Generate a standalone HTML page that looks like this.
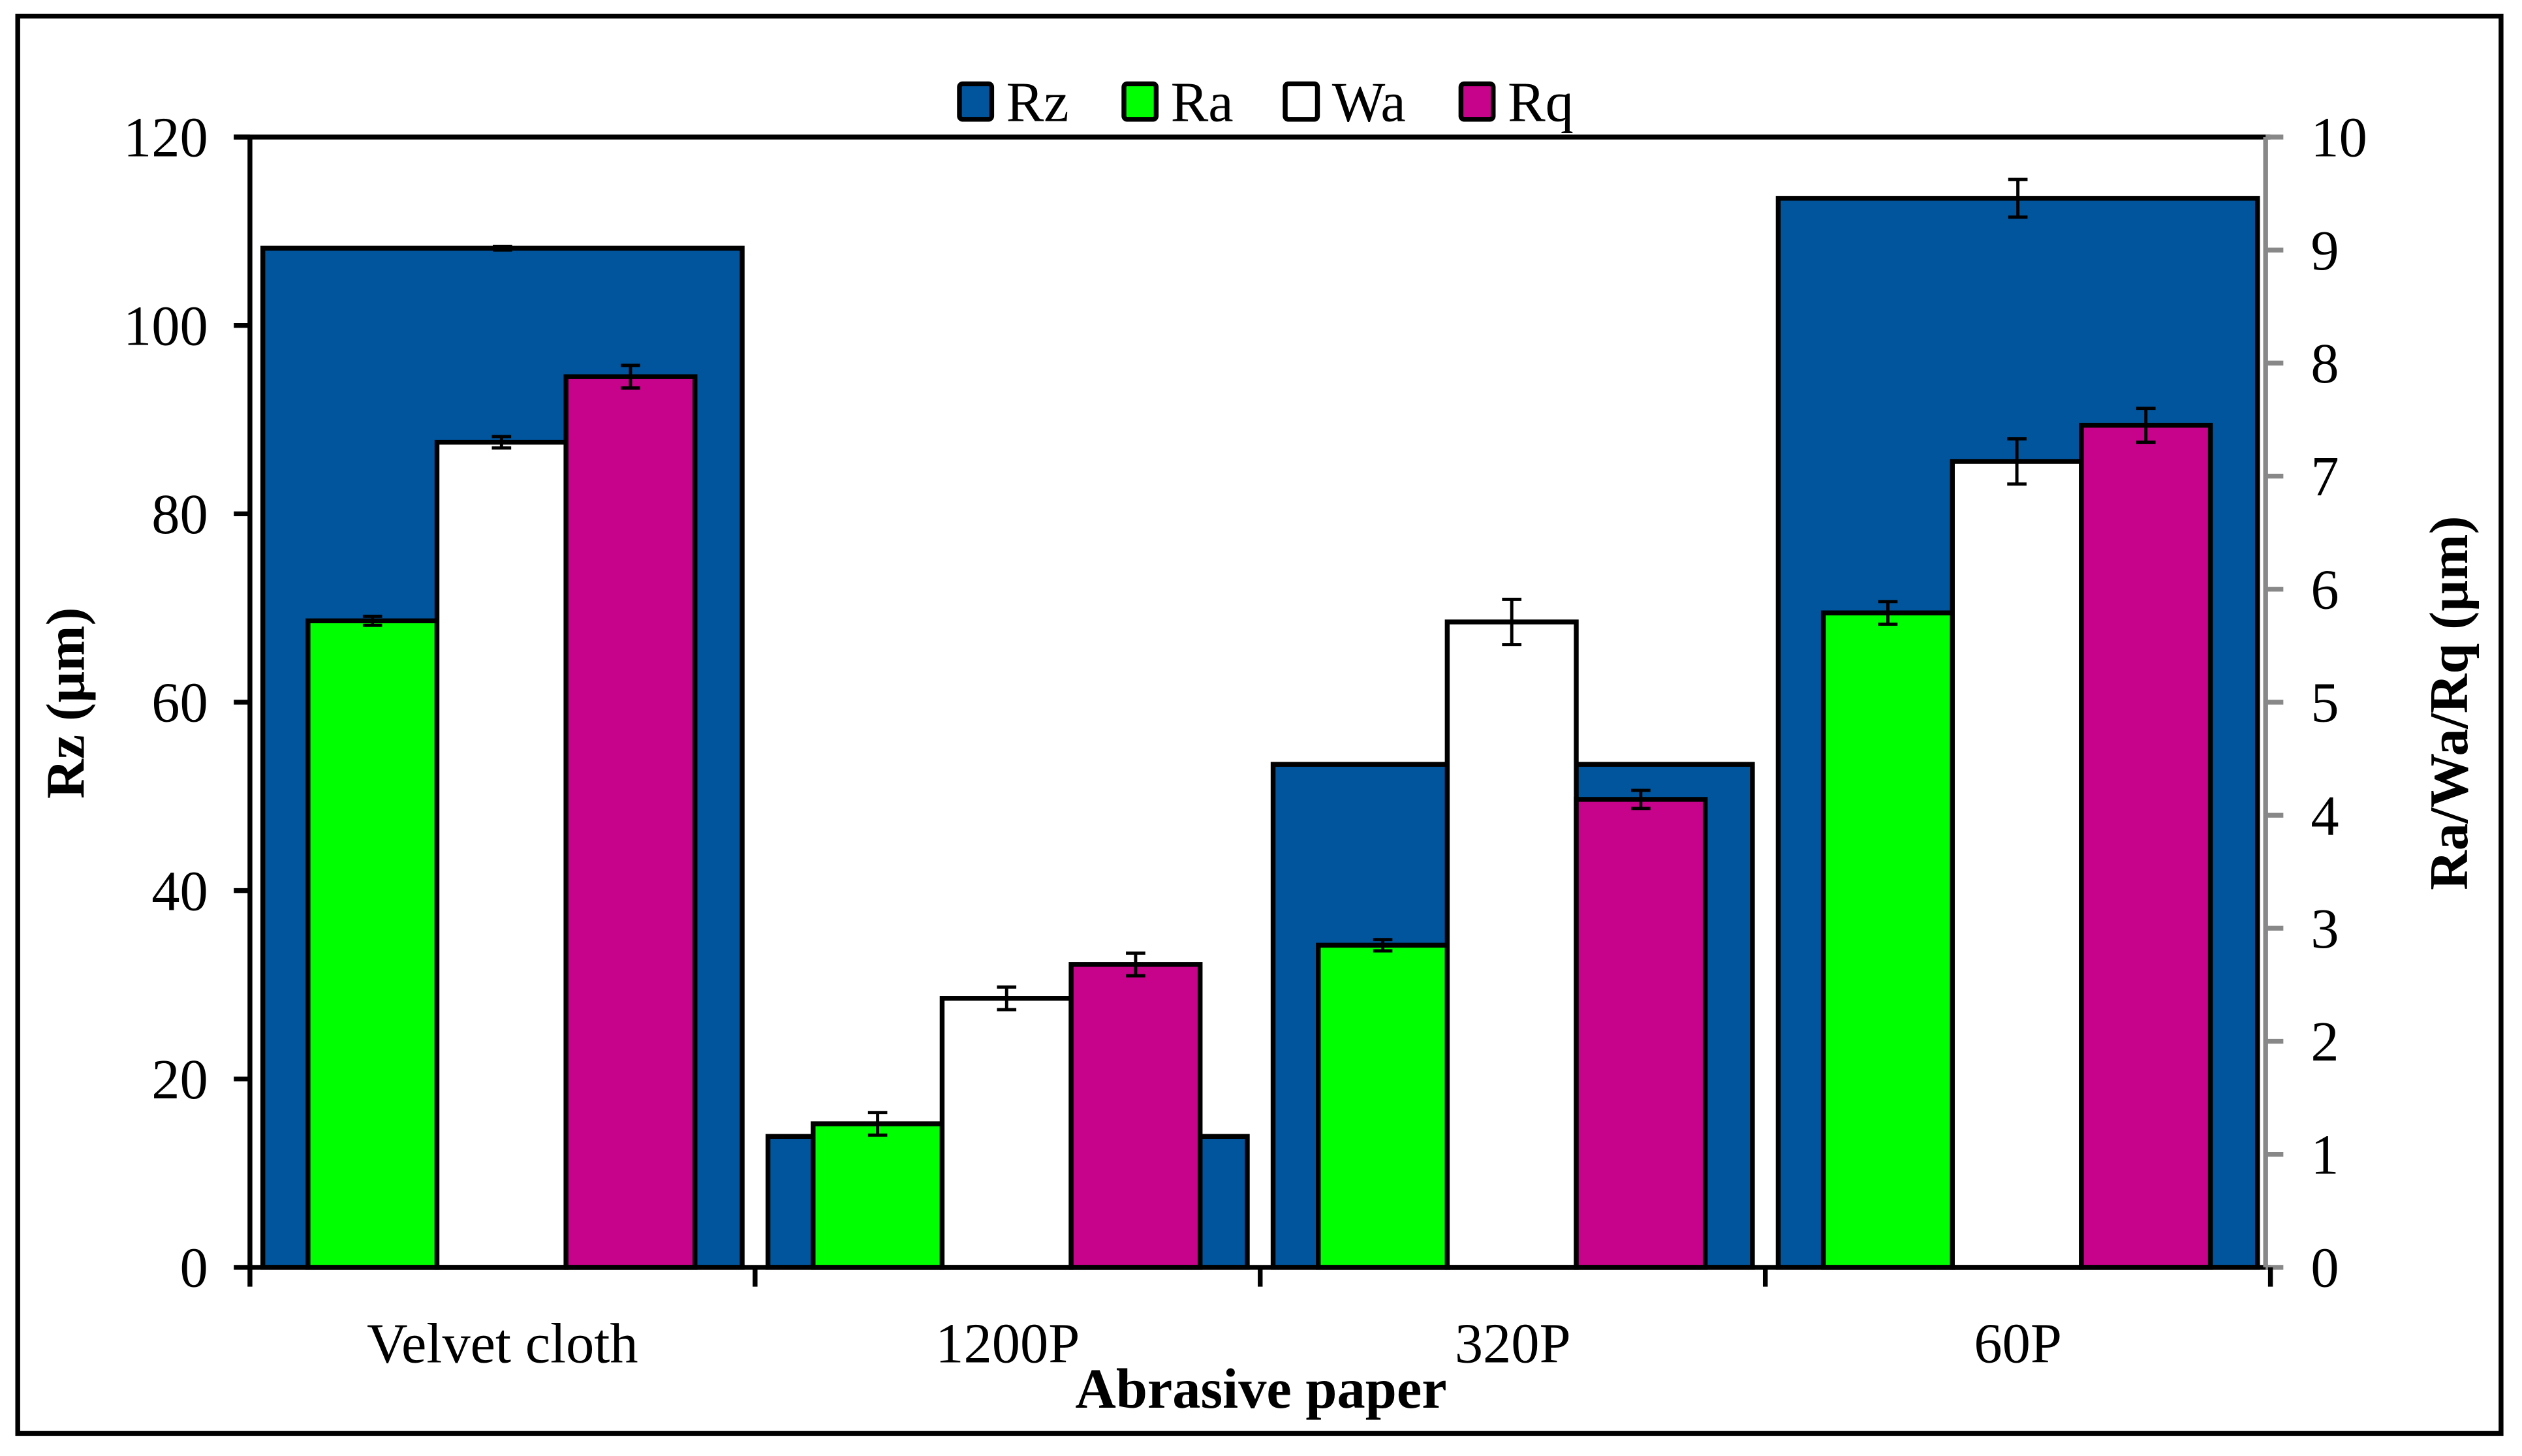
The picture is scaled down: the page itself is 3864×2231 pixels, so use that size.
<!DOCTYPE html>
<html><head><meta charset="utf-8"><style>
html,body{margin:0;padding:0;background:#fff;}
svg{display:block;}
text{font-family:"Liberation Serif",serif;fill:#000;}
</style></head><body>
<svg id="chart" width="3864" height="2231" viewBox="0 0 1564 903" preserveAspectRatio="none" xmlns="http://www.w3.org/2000/svg">
<rect x="11" y="10" width="1540" height="879" fill="none" stroke="#000" stroke-width="3"/>
<g id="plot"></g>
</svg>
<script>
const categories = ["Velvet cloth","1200P","320P","60P"];
const rzValues = [108.2, 13.9, 53.4, 113.5];
const rzErr = [0.2, 0.2, 0.2, 2.0];
const raValues = [5.72, 1.27, 2.85, 5.79];
const raErr = [0.04, 0.1, 0.05, 0.1];
const waValues = [7.30, 2.38, 5.71, 7.13];
const waErr = [0.05, 0.1, 0.2, 0.2];
const rqValues = [7.88, 2.68, 4.14, 7.45];
const rqErr = [0.1, 0.1, 0.08, 0.15];
const leftTicks = [0,20,40,60,80,100,120];
const rightTicks = [0,1,2,3,4,5,6,7,8,9,10];
const seriesNames = ["Rz","Ra","Wa","Rq"];
const seriesColors = ["#01559d","#00ff00","#ffffff","#c8038b"];

const NS="http://www.w3.org/2000/svg";
const g=document.getElementById('plot');
const X0=155, X1=1408, Y0=786, Y1=85;
const catW=(X1-X0)/categories.length;
const yL=v=>Y0-(v/120)*(Y0-Y1);
const yR=v=>Y0-(v/10)*(Y0-Y1);
function el(tag,attrs,parent){const e=document.createElementNS(NS,tag);for(const k in attrs)e.setAttribute(k,attrs[k]);(parent||g).appendChild(e);return e;}
function errBar(cx,yt,yb){
  const e=el('path',{d:`M${cx},${yt}V${yb}M${cx-6},${yt}H${cx+6}M${cx-6},${yb}H${cx+6}`,stroke:'#000','stroke-width':2,fill:'none'});
  
  
}
categories.forEach((c,i)=>{
  const x=X0+i*catW+8, w=catW-16, y=yL(rzValues[i]);
  const r=el('rect',{x:x,y:y,width:w,height:Y0-y,fill:seriesColors[0],stroke:'#000','stroke-width':3});
  
  
  errBar(x+w/2,yL(rzValues[i]+rzErr[i]),yL(rzValues[i]-rzErr[i]));
});
const sec=[[raValues,raErr],[waValues,waErr],[rqValues,rqErr]];
categories.forEach((c,i)=>{
  sec.forEach((s,j)=>{
    const x=X0+i*catW+36+j*80, w=80, y=yR(s[0][i]);
    const r=el('rect',{x:x,y:y,width:w,height:Y0-y,fill:seriesColors[j+1],stroke:'#000','stroke-width':3});
    
    
    errBar(x+w/2,yR(s[0][i]+s[1][i]),yR(s[0][i]-s[1][i]));
  });
});
const axPath=el('path',{d:`M${X0},${Y1}V${Y0}H${X1}`,stroke:'#000','stroke-width':3,fill:'none'});


const topLine=el('path',{d:`M${X0-10},${Y1}H${X1}`,stroke:'#000','stroke-width':3,fill:'none'});


const rightAxis=el('path',{d:`M${X1-3},${Y1}V${Y0}`,stroke:'#888','stroke-width':3,fill:'none'});


leftTicks.forEach(v=>{
  const y=yL(v);
  el('path',{d:`M${X0-10},${y}H${X0}`,stroke:'#000','stroke-width':3});
  const t=el('text',{x:X0-26,y:y+12,'text-anchor':'end','font-size':35});
  t.textContent=v;
  
  
});
rightTicks.forEach(v=>{
  const y=yR(v);
  el('path',{d:`M${X1-3},${y}H${X1+8}`,stroke:'#888','stroke-width':3});
  const t=el('text',{x:X1+25,y:y+12,'text-anchor':'start','font-size':35});
  t.textContent=v;
  
  
});
for(let i=0;i<=categories.length;i++){
  const x=X0+i*catW;
  el('path',{d:`M${x},${Y0}V${Y0+12}`,stroke:'#000','stroke-width':3});
}
categories.forEach((c,i)=>{
  const t=el('text',{x:X0+i*catW+catW/2,y:845,'text-anchor':'middle','font-size':35});
  t.textContent=c;
  
  
});
const xt=el('text',{x:782,y:873,'text-anchor':'middle','font-size':35,'font-weight':'bold'});
xt.textContent='Abrasive paper';


const ylt=el('text',{x:0,y:0,'text-anchor':'middle','font-size':34,'font-weight':'bold',transform:'translate(52,436) rotate(-90)'});
ylt.textContent='Rz (µm)';


const yrt=el('text',{x:0,y:0,'text-anchor':'middle','font-size':34,'font-weight':'bold',transform:'translate(1530,436) rotate(-90)'});
yrt.textContent='Ra/Wa/Rq (µm)';


const lx=[595,697,797,906];
seriesNames.forEach((n,i)=>{
  const r=el('rect',{x:lx[i],y:52,width:20,height:22,fill:seriesColors[i],stroke:'#000','stroke-width':3,rx:2});
  
  
  const t=el('text',{x:lx[i]+29,y:75,'font-size':35});
  t.textContent=n;
  
  
});
</script>
</body></html>
